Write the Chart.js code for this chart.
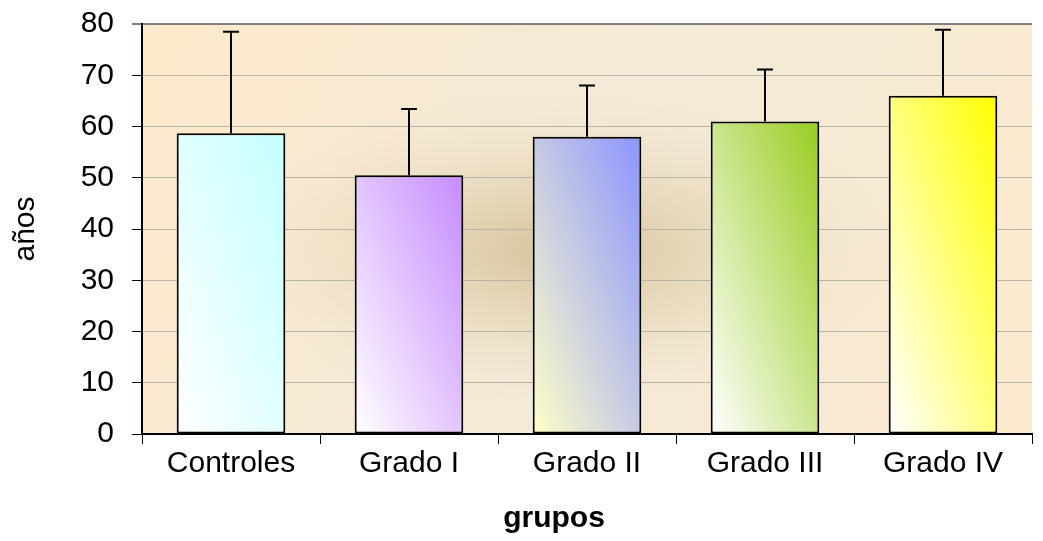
<!DOCTYPE html>
<html>
<head>
<meta charset="utf-8">
<script src="https://cdn.jsdelivr.net/npm/chart.js@4/dist/chart.umd.min.js"></script>
<style>
  html, body { margin: 0; padding: 0; background: #fff; }
  #wrap { width: 1043px; height: 541px; }
</style>
</head>
<body>
<div id="wrap"><canvas id="barChart"></canvas></div>
<script>
const groups = ['Controles', 'Grado I', 'Grado II', 'Grado III', 'Grado IV'];
const meanAge = [58.7, 50.5, 58.0, 61.0, 66.0];
const sdAge = [19.8, 12.9, 10.0, 10.1, 12.9];
const yTicks = [0, 10, 20, 30, 40, 50, 60, 70, 80];

// colour at the top-right corner / bottom-left corner of each bar
const barDark = ['#c4ffff', '#c58bff', '#8c94ff', '#99cc1f', '#ffff00'];
const barLight = ['#ffffff', '#ffffff', '#ffffc8', '#ffffff', '#ffffff'];

const FONT = '"Liberation Sans", Arial, sans-serif';

// diagonal gradient like the old spreadsheet fill: isolines parallel to the
// bar's top-left / bottom-right diagonal
function barFill(context) {
    const chart = context.chart;
    const xs = chart.scales.x, ys = chart.scales.y;
    const i = context.dataIndex;
    if (!xs || !ys || i === undefined) return barDark[0];
    const cx = xs.getPixelForValue(i);
    const half = 54;
    const top = ys.getPixelForValue(meanAge[i]);
    const bottom = ys.getPixelForValue(0);
    if (![cx, top, bottom].every(Number.isFinite)) return barDark[i];
    const w = half * 2, h = bottom - top;
    const n = Math.sqrt(w * w + h * h);
    const L = 2 * w * h / n;
    const x0 = cx - half, y0 = bottom;
    const x1 = x0 + h / n * L, y1 = y0 - w / n * L;
    const g = chart.ctx.createLinearGradient(x0, y0, x1, y1);
    g.addColorStop(0, barLight[i]);
    g.addColorStop(1, barDark[i]);
    return g;
}

const plotBackground = {
    id: 'plotBackground',
    beforeDraw(chart) {
        const { ctx, chartArea: a } = chart;
        ctx.save();
        const lin = ctx.createLinearGradient(a.left, a.top, a.right, a.bottom);
        lin.addColorStop(0, '#fde9cb');
        lin.addColorStop(0.5, '#f3ead8');
        lin.addColorStop(1, '#fbeacd');
        ctx.fillStyle = lin;
        ctx.fillRect(a.left, a.top, a.right - a.left, a.bottom - a.top);
        // soft darker spot in the middle
        ctx.beginPath();
        ctx.rect(a.left, a.top, a.right - a.left, a.bottom - a.top);
        ctx.clip();
        const cx = a.left + (a.right - a.left) * 0.47;
        const cy = a.top + (a.bottom - a.top) * 0.55;
        ctx.translate(cx, cy);
        ctx.scale(2.2, 1);
        const rad = ctx.createRadialGradient(0, 0, 0, 0, 0, 160);
        rad.addColorStop(0, 'rgba(210,192,152,0.95)');
        rad.addColorStop(0.45, 'rgba(222,206,170,0.55)');
        rad.addColorStop(1, 'rgba(240,228,205,0)');
        ctx.fillStyle = rad;
        ctx.fillRect(-300, -200, 600, 400);
        ctx.restore();
    }
};

const errorBars = {
    id: 'errorBars',
    afterDatasetsDraw(chart) {
        const { ctx } = chart;
        const xs = chart.scales.x, ys = chart.scales.y;
        ctx.save();
        ctx.strokeStyle = '#000';
        ctx.lineWidth = 2;
        meanAge.forEach((m, i) => {
            const x = xs.getPixelForValue(i);
            const y0 = ys.getPixelForValue(m);
            const y1 = ys.getPixelForValue(m + sdAge[i]);
            ctx.beginPath();
            ctx.moveTo(x, y0);
            ctx.lineTo(x, y1);
            ctx.moveTo(x - 8, y1);
            ctx.lineTo(x + 8, y1);
            ctx.stroke();
        });
        ctx.restore();
    }
};

const groupTitle = {
    id: 'groupTitle',
    afterDraw(chart) {
        const { ctx } = chart;
        ctx.save();
        ctx.fillStyle = '#000';
        ctx.font = 'bold 30px ' + FONT;
        ctx.textAlign = 'center';
        ctx.textBaseline = 'middle';
        ctx.fillText('grupos', 554, 519);
        ctx.restore();
    }
};

const ctx = document.getElementById('barChart').getContext('2d');
new Chart(ctx, {
    type: 'bar',
    data: {
        labels: groups,
        datasets: [{
            label: 'años',
            data: meanAge,
            backgroundColor: barFill,
            borderColor: '#000',
            borderWidth: 2,
            borderSkipped: false,
            categoryPercentage: 1,
            barPercentage: 0.61
        }]
    },
    options: {
        responsive: true,
        maintainAspectRatio: false,
        animation: false,
        layout: { padding: { top: 24, right: 11, left: 0, bottom: 0 } },
        plugins: {
            legend: { display: false },
            tooltip: { enabled: false }
        },
        scales: {
            x: {
                grid: {
                    display: true,
                    offset: true,
                    drawOnChartArea: false,
                    tickLength: 10,
                    tickColor: '#000',
                    tickWidth: 1
                },
                border: { display: true, color: '#000', width: 2 },
                ticks: {
                    color: '#000',
                    font: { family: FONT, size: 30 },
                    padding: 2,
                    maxRotation: 0
                },
                afterFit(scale) { scale.height = 107; }
            },
            y: {
                min: 0,
                max: 80,
                afterBuildTicks(scale) { scale.ticks = yTicks.map(v => ({ value: v })); },
                grid: {
                    color: c => c.tick && c.tick.value === 80 ? '#808080' : (c.tick && c.tick.value === 0 ? 'rgba(0,0,0,0)' : '#b8b4ac'),
                    lineWidth: c => c.tick && c.tick.value === 80 ? 2 : 1,
                    tickLength: 10,
                    tickColor: '#000',
                    tickWidth: 1
                },
                border: { display: true, color: '#000', width: 2 },
                ticks: {
                    color: '#000',
                    font: { family: FONT, size: 30, lineHeight: 0.2 },
                    padding: 18
                },
                title: {
                    display: true,
                    text: 'años',
                    color: '#000',
                    font: { family: FONT, size: 30 },
                    padding: { top: 8, bottom: 0 }
                },
                afterFit(scale) { scale.width = 142; }
            }
        }
    },
    plugins: [plotBackground, errorBars, groupTitle]
});
</script>
</body>
</html>
